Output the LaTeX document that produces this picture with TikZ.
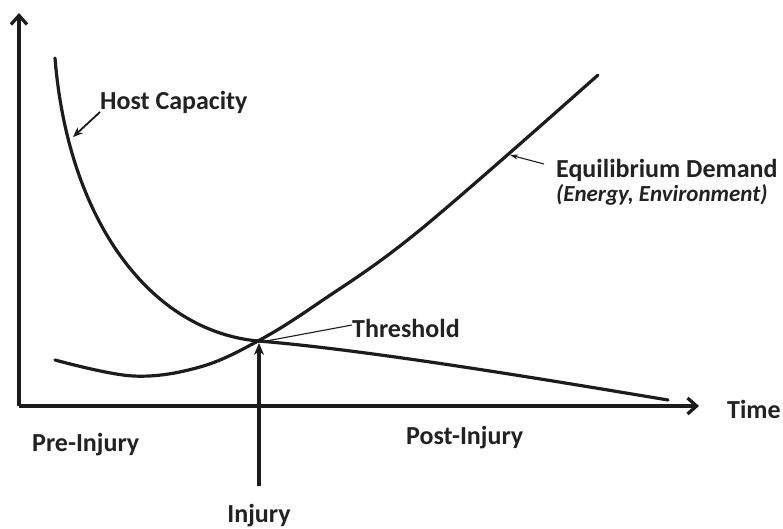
\documentclass[tikz,border=0pt]{standalone}
\usepackage{fontspec}
\setmainfont{Carlito}
\usetikzlibrary{arrows.meta}
\definecolor{ink}{HTML}{1C1C1C}
\definecolor{txt}{HTML}{222222}
\begin{document}
\begin{tikzpicture}[x=1pt,y=-1pt,
  axis/.style={line width=3.3pt,draw=ink,-{Straight Barb[length=9pt,width=16pt,line width=3.3pt]}},
  curve/.style={line width=3.2pt,draw=ink,line cap=round},
  pointer/.style={line width=1.8pt,draw=ink,-{Stealth[length=10pt,width=8pt]}},
  thinpointer/.style={line width=1.1pt,draw=ink,-{Stealth[length=8pt,width=5pt]}},
  label/.style={font=\fontsize{26}{30}\selectfont\bfseries,text=txt,inner sep=0pt},
  sublabel/.style={font=\fontsize{23}{27}\selectfont\bfseries\itshape,text=txt,inner sep=0pt}]
\useasboundingbox[fill=white] (0,0) rectangle (783,529);

% axes
\coordinate (origin) at (19,406);
\coordinate (ytip) at (19,13);
\coordinate (xtip) at (699,406);
\draw[axis] (origin) -- (ytip);
\draw[axis] (origin) -- (xtip);

% threshold point where the two curves cross
\coordinate (cross) at (258,341);

% host capacity curve
\draw[curve] (55,58) .. controls (68,220) and (150,331) .. (cross)
  .. controls (370,350) and (560,382) .. (668,400);

% equilibrium demand curve
\draw[curve] plot[smooth,tension=0.6] coordinates
  {(55,360) (133,376) (200,367) (cross) (320,302)
   (420,230) (598,75)};

% labels
\node[label,anchor=base west] (hc) at (100,110) {Host Capacity};
\node[label,anchor=base west] (ed) at (556,178) {Equilibrium Demand};
\node[sublabel,anchor=base west] (ee) at (556,201) {(Energy, Environment)};
\node[label,anchor=base west] (th) at (352,337) {Threshold};
\node[label,anchor=base west] (time) at (727,418) {Time};
\node[label,anchor=base west] (pre) at (32,451) {Pre-Injury};
\node[label,anchor=base west] (post) at (406,444) {Post-Injury};
\node[label,anchor=base] (inj) at (259,522) {Injury};

% pointers
\coordinate (hcpt) at (73,137);
\coordinate (edpt) at (510,155);
\coordinate (thpt) at (261,342);
\coordinate (injbase) at (259,486);
\coordinate (injtip) at (259,343);
\draw[pointer] (hc.west |- 0,112) -- (hcpt);
\draw[thinpointer] (ed.west |- 0,164) ++(-12,0) -- (edpt);
\draw[line width=1.1pt,draw=ink] (th.west |- 0,325) -- (thpt);
\draw[line width=3.3pt,draw=ink,-{Stealth[length=12pt,width=10pt]}] (injbase) -- (injtip);
\end{tikzpicture}
\end{document}
